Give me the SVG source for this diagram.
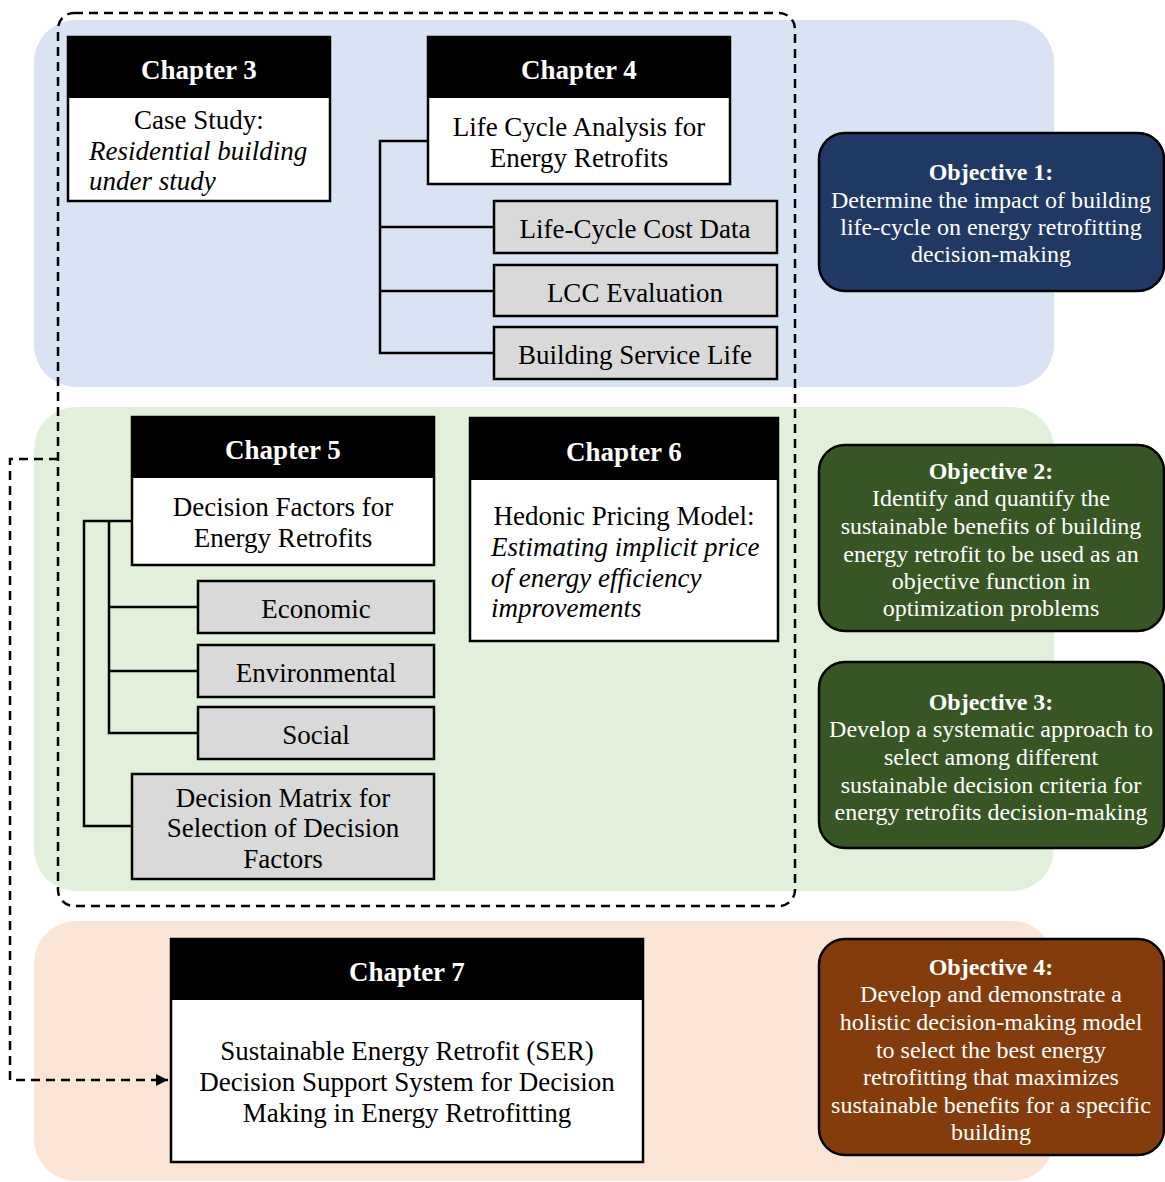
<svg xmlns="http://www.w3.org/2000/svg" width="1165" height="1182" viewBox="0 0 1165 1182">
<defs>
<style>
.hd{fill:#000;stroke:#000;stroke-width:2;}
.hdt{fill:#fff;font-size:27px;font-weight:bold;text-anchor:middle;}
.wb{fill:#fff;stroke:#000;stroke-width:2.5;}
.gb{fill:#d9d9d9;stroke:#000;stroke-width:2.5;}
.t{fill:#000;font-size:27px;}
.c{text-anchor:middle;}
.i{font-style:italic;}
.ob{stroke:#000;stroke-width:2.5;}
.ot{fill:#fff;font-size:24px;text-anchor:middle;}
.ob1{font-weight:bold;}
.ln{fill:none;stroke:#000;stroke-width:2.5;}
.dash{fill:none;stroke:#000;stroke-width:2.5;stroke-dasharray:9 6;}
</style>
<marker id="arr" viewBox="0 0 10 10" refX="10" refY="5" markerWidth="5" markerHeight="5" markerUnits="strokeWidth" orient="auto">
<path d="M0,0 L10,5 L0,10 z" fill="#000"/>
</marker>
</defs>
<g font-family="Liberation Serif, serif">
<g id="bands">
<rect x="34" y="20" width="1020" height="367" rx="42" fill="#dae3f3"/>
<rect x="34" y="407" width="1020" height="484" rx="42" fill="#e2efda"/>
<rect x="34" y="921" width="1020" height="260" rx="42" fill="#fbe5d6"/>
</g>
<g id="connectors">
<rect class="dash" x="58" y="13" width="737" height="893" rx="16"/>
<path class="dash" d="M58,459 H10 V1080 H168" marker-end="url(#arr)"/>
<path class="ln" d="M428,141 H380 V353 H494 M380,227 H494 M380,291 H494"/>
<path class="ln" d="M132,521 H84 V826 H132 M109,521 V733 H198 M109,607 H198 M109,671 H198"/>
</g>
<g id="ch3">
<rect class="wb" x="68" y="37" width="262" height="164"/>
<rect class="hd" x="68" y="37" width="262" height="60"/>
<text class="hdt" x="199" y="79">Chapter 3</text>
<text class="t c" x="199" y="129">Case Study:</text>
<text class="t i" x="89" y="160">Residential building</text>
<text class="t i" x="89" y="190">under study</text>
</g>
<g id="ch4">
<rect class="wb" x="428" y="37" width="302" height="147"/>
<rect class="hd" x="428" y="37" width="302" height="60"/>
<text class="hdt" x="579" y="79">Chapter 4</text>
<text class="t c" x="579" y="136">Life Cycle Analysis for</text>
<text class="t c" x="579" y="167">Energy Retrofits</text>
</g>
<g id="lccdata">
<rect class="gb" x="494" y="201" width="283" height="52"/>
<text class="t c" x="635" y="238">Life-Cycle Cost Data</text>
</g>
<g id="lcceval">
<rect class="gb" x="494" y="265" width="283" height="51"/>
<text class="t c" x="635" y="302">LCC Evaluation</text>
</g>
<g id="servicelife">
<rect class="gb" x="494" y="327" width="283" height="52"/>
<text class="t c" x="635" y="364">Building Service Life</text>
</g>
<g id="obj1">
<rect class="ob" x="819" y="133" width="345" height="158" rx="26" fill="#203864"/>
<text class="ot ob1" x="991" y="180">Objective 1:</text>
<text class="ot" x="991" y="208">Determine the impact of building</text>
<text class="ot" x="991" y="235">life-cycle on energy retrofitting</text>
<text class="ot" x="991" y="262">decision-making</text>
</g>
<g id="ch5">
<rect class="wb" x="132" y="417" width="302" height="148"/>
<rect class="hd" x="132" y="417" width="302" height="60"/>
<text class="hdt" x="283" y="459">Chapter 5</text>
<text class="t c" x="283" y="516">Decision Factors for</text>
<text class="t c" x="283" y="547">Energy Retrofits</text>
</g>
<g id="economic">
<rect class="gb" x="198" y="581" width="236" height="52"/>
<text class="t c" x="316" y="618">Economic</text>
</g>
<g id="environmental">
<rect class="gb" x="198" y="645" width="236" height="52"/>
<text class="t c" x="316" y="682">Environmental</text>
</g>
<g id="social">
<rect class="gb" x="198" y="707" width="236" height="52"/>
<text class="t c" x="316" y="744">Social</text>
</g>
<g id="matrix">
<rect class="gb" x="132" y="774" width="302" height="105"/>
<text class="t c" x="283" y="807">Decision Matrix for</text>
<text class="t c" x="283" y="837">Selection of Decision</text>
<text class="t c" x="283" y="868">Factors</text>
</g>
<g id="ch6">
<rect class="wb" x="470" y="418" width="308" height="223"/>
<rect class="hd" x="470" y="418" width="308" height="61"/>
<text class="hdt" x="624" y="461">Chapter 6</text>
<text class="t c" x="624" y="525">Hedonic Pricing Model:</text>
<text class="t i" x="491" y="556">Estimating implicit price</text>
<text class="t i" x="491" y="587">of energy efficiency</text>
<text class="t i" x="491" y="617">improvements</text>
</g>
<g id="obj2">
<rect class="ob" x="819" y="445" width="345" height="186" rx="26" fill="#375623"/>
<text class="ot ob1" x="991" y="479">Objective 2:</text>
<text class="ot" x="991" y="506">Identify and quantify the</text>
<text class="ot" x="991" y="534">sustainable benefits of building</text>
<text class="ot" x="991" y="562">energy retrofit to be used as an</text>
<text class="ot" x="991" y="589">objective function in</text>
<text class="ot" x="991" y="616">optimization problems</text>
</g>
<g id="obj3">
<rect class="ob" x="819" y="662" width="345" height="186" rx="26" fill="#375623"/>
<text class="ot ob1" x="991" y="710">Objective 3:</text>
<text class="ot" x="991" y="737">Develop a systematic approach to</text>
<text class="ot" x="991" y="765">select among different</text>
<text class="ot" x="991" y="793">sustainable decision criteria for</text>
<text class="ot" x="991" y="820">energy retrofits decision-making</text>
</g>
<g id="ch7">
<rect class="wb" x="171" y="939" width="472" height="223"/>
<rect class="hd" x="171" y="939" width="472" height="60"/>
<text class="hdt" x="407" y="981">Chapter 7</text>
<text class="t c" x="407" y="1060">Sustainable Energy Retrofit (SER)</text>
<text class="t c" x="407" y="1091">Decision Support System for Decision</text>
<text class="t c" x="407" y="1122">Making in Energy Retrofitting</text>
</g>
<g id="obj4">
<rect class="ob" x="819" y="939" width="345" height="216" rx="26" fill="#843c0c"/>
<text class="ot ob1" x="991" y="975">Objective 4:</text>
<text class="ot" x="991" y="1002">Develop and demonstrate a</text>
<text class="ot" x="991" y="1030">holistic decision-making model</text>
<text class="ot" x="991" y="1058">to select the best energy</text>
<text class="ot" x="991" y="1085">retrofitting that maximizes</text>
<text class="ot" x="991" y="1113">sustainable benefits for a specific</text>
<text class="ot" x="991" y="1140">building</text>
</g>
</g>
</svg>
